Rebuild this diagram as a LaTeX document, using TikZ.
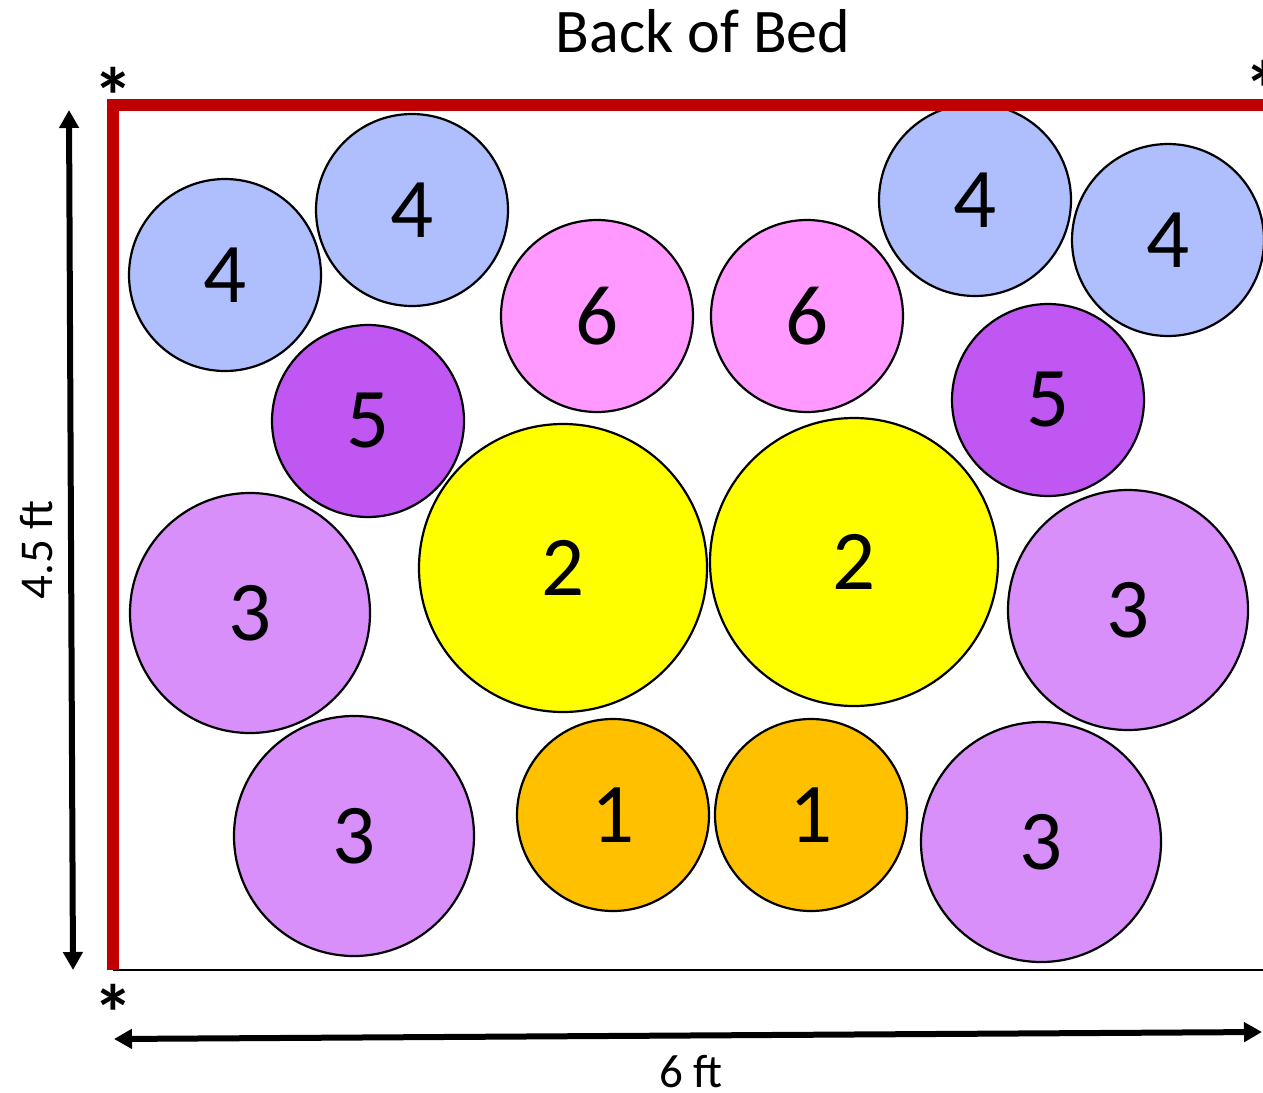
\documentclass[tikz,border=0pt]{standalone}
\usepackage{fontspec}
\setmainfont{Carlito}
\usetikzlibrary{arrows.meta}
\definecolor{bluefour}{RGB}{175,190,252}
\definecolor{pinksix}{RGB}{255,153,255}
\definecolor{purplefive}{RGB}{193,87,243}
\definecolor{yellowtwo}{RGB}{255,255,0}
\definecolor{lilacthree}{RGB}{217,143,250}
\definecolor{orangeone}{RGB}{255,192,0}
\definecolor{bedred}{RGB}{192,0,0}
\tikzset{
  plant/.style={circle, draw=black, line width=2.2pt, inner sep=0pt, font=\fontsize{85}{90}\selectfont},
  small/.style={plant, minimum size=192pt},
  mid/.style={plant, minimum size=240pt},
  big/.style={plant, minimum size=288pt},
  dimarrow/.style={line width=6pt, {Triangle[length=18pt,width=19pt]}-{Triangle[length=18pt,width=19pt]}},
  star/.style={anchor=base, inner sep=0pt, font=\bfseries\fontsize{80}{84}\selectfont},
  label/.style={anchor=base, inner sep=0pt, font=\fontsize{47}{50}\selectfont}
}
\begin{document}
\begin{tikzpicture}[x=1pt,y=-1pt]
\useasboundingbox (0,0) rectangle (1263,1092);
% circles
\node[small, fill=bluefour] (a4) at (225,275) {4};
\node[small, fill=bluefour] (b4) at (412,210) {4};
\node[small, fill=bluefour] (c4) at (975,200) {4};
\node[small, fill=bluefour] (d4) at (1168,240) {4};
\node[small, fill=pinksix] (a6) at (597,316) {6};
\node[small, fill=pinksix] (b6) at (807,316) {6};
\node[small, fill=purplefive] (a5) at (368,421) {5};
\node[small, fill=purplefive] (b5) at (1048,400) {5};
\node[big, fill=yellowtwo] (a2) at (563,568) {2};
\node[big, fill=yellowtwo] (b2) at (854,562) {2};
\node[mid, fill=lilacthree] (a3) at (250,613) {3};
\node[mid, fill=lilacthree] (b3) at (1128,610) {3};
\node[mid, fill=lilacthree] (c3) at (354,836) {3};
\node[mid, fill=lilacthree] (d3) at (1041,842) {3};
\node[small, fill=orangeone] (a1) at (613,815) {1};
\node[small, fill=orangeone] (b1) at (811,815) {1};
% bed outline
\coordinate (bl) at (113,970);
\coordinate (br) at (1263,970);
\coordinate (tl) at (113,104.5);
\coordinate (tr) at (1263,104.5);
\draw[line width=2pt] (bl) -- (br);
\draw[bedred, line width=12pt, line join=miter] (bl) -- (tl) -- (tr);
% dimension arrows
\coordinate (vt) at (69,110);
\coordinate (vb) at (73,970);
\coordinate (hl) at (114,1039);
\coordinate (hr) at (1262,1032);
\draw[dimarrow] (vt) -- (vb);
\draw[dimarrow] (hl) -- (hr);
% texts
\node[anchor=base, inner sep=0pt, font=\fontsize{62}{66}\selectfont] (title) at (703,52) {Back of Bed};
\node[label, rotate=90] (len) at (52,550) {4.5 ft};
\node[label] (wid) at (691,1087) {6 ft};
\node[star] (s1) at (113,124) {*};
\node[star] (s2) at (1264,117) {*};
\node[star] (s3) at (113,1041) {*};
\end{tikzpicture}
\end{document}
